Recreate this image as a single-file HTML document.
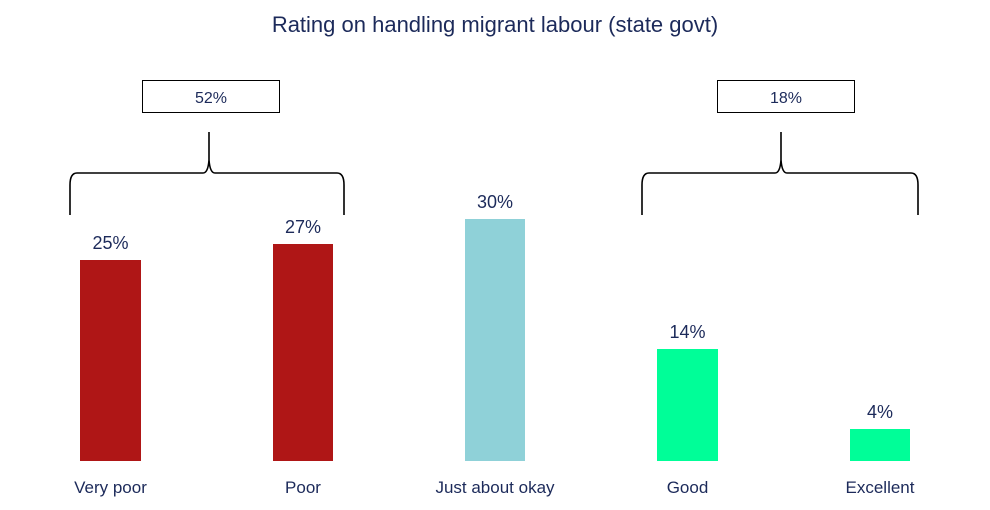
<!DOCTYPE html>
<html><head><meta charset="utf-8"><style>
html,body{margin:0;padding:0;background:#fff;}
svg text{font-family:"Liberation Sans",sans-serif;fill:#1c2a5a;}
</style></head><body>
<svg width="990" height="505" viewBox="0 0 990 505" xmlns="http://www.w3.org/2000/svg">
<text x="495" y="32" font-size="22" text-anchor="middle">Rating on handling migrant labour (state govt)</text>
<rect x="142.5" y="80.5" width="137" height="32" fill="#fff" stroke="#000" stroke-width="1"/>
<text x="211" y="103" font-size="16" text-anchor="middle">52%</text>
<rect x="717.5" y="80.5" width="137" height="32" fill="#fff" stroke="#000" stroke-width="1"/>
<text x="786" y="103" font-size="16" text-anchor="middle">18%</text>
<path d="M70 215 L70 185 Q70 173 77 173 L203 173 Q208 173 209 160 L209 132 M209 160 Q210 173 215 173 L337 173 Q344 173 344 185 L344 215" fill="none" stroke="#000" stroke-width="1.6"/>
<path d="M642 215 L642 185 Q642 173 649 173 L775 173 Q780 173 781 160 L781 132 M781 160 Q782 173 787 173 L911 173 Q918 173 918 185 L918 215" fill="none" stroke="#000" stroke-width="1.6"/>
<rect x="80" y="260" width="61" height="201" fill="#af1616"/>
<rect x="273" y="244" width="60" height="217" fill="#af1616"/>
<rect x="465" y="219" width="60" height="242" fill="#8fd1d8"/>
<rect x="657" y="349" width="61" height="112" fill="#00fe98"/>
<rect x="850" y="429" width="60" height="32" fill="#00fe98"/>
<g font-size="18" text-anchor="middle">
<text x="110.5" y="249">25%</text>
<text x="303" y="233">27%</text>
<text x="495" y="208">30%</text>
<text x="687.5" y="338">14%</text>
<text x="880" y="418">4%</text>
</g>
<g font-size="17" text-anchor="middle">
<text x="110.5" y="493">Very poor</text>
<text x="303" y="493">Poor</text>
<text x="495" y="493">Just about okay</text>
<text x="687.5" y="493">Good</text>
<text x="880" y="493">Excellent</text>
</g>
</svg>
</body></html>
